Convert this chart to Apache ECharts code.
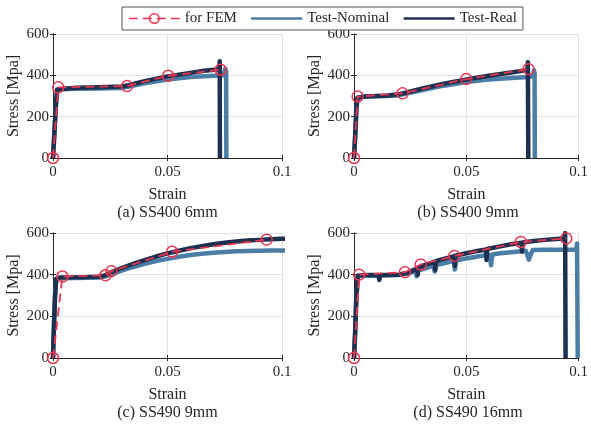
<!DOCTYPE html>
<html>
<head>
<meta charset="utf-8">
<script src="https://cdn.jsdelivr.net/npm/echarts@6/dist/echarts.min.js"></script>
<style>
  html, body { margin: 0; padding: 0; background: #ffffff; }
  #chart { width: 591px; height: 426px; }
</style>
</head>
<body>
<div id="chart"></div>
<script>
// Axis ticks shared by all four panels
const strainTicks = [0, 0.05, 0.1];
const stressTicks = [0, 200, 400, 600];

const seriesNames = ['for FEM', 'Test-Nominal', 'Test-Real'];
const panelCaptions = ['(a) SS400 6mm', '(b) SS400 9mm', '(c) SS490 9mm', '(d) SS490 16mm'];

// (a) SS400 6mm  [strain, stress MPa]
const femA = [[0, 0], [0.0023, 342], [0.0323, 348], [0.0503, 398], [0.0732, 427]];
const nominalA = [[0, 0], [0.0005, 100], [0.0013, 260], [0.002, 330], [0.003, 333], [0.01, 335], [0.02, 336],
  [0.03, 339], [0.034, 348], [0.04, 362], [0.05, 380], [0.06, 392], [0.07, 398], [0.0745, 400],
  [0.0752, 432], [0.0756, 420], [0.0757, 0]];
const realA = [[0, 0], [0.0005, 100], [0.0012, 250], [0.0018, 332], [0.0025, 338], [0.01, 340], [0.02, 342],
  [0.03, 346], [0.033, 352], [0.04, 372], [0.05, 395], [0.06, 412], [0.066, 422], [0.0715, 428],
  [0.0726, 430], [0.0728, 468], [0.0729, 0]];

// (b) SS400 9mm
const femB = [[0, 0], [0.0016, 297], [0.0216, 313], [0.05, 382], [0.0777, 430]];
const nominalB = [[0, 0], [0.0005, 100], [0.0011, 240], [0.0017, 292], [0.005, 298], [0.015, 300], [0.02, 304],
  [0.03, 328], [0.04, 350], [0.05, 368], [0.06, 380], [0.07, 387], [0.078, 392], [0.0798, 398],
  [0.0801, 425], [0.0804, 410], [0.0805, 0]];
const realB = [[0, 0], [0.0005, 100], [0.001, 230], [0.0015, 292], [0.005, 298], [0.015, 302], [0.02, 308],
  [0.03, 335], [0.04, 360], [0.05, 380], [0.06, 398], [0.07, 414], [0.076, 424], [0.0772, 428],
  [0.0774, 463], [0.0776, 0]];

// (c) SS490 9mm
const femC = [[0, 0], [0.0041, 391], [0.0229, 397], [0.0255, 417], [0.052, 510], [0.0933, 568]];
const nominalC = [[0, 0], [0.0004, 150], [0.0009, 300], [0.0014, 378], [0.003, 383], [0.01, 384], [0.02, 386],
  [0.023, 392], [0.026, 405], [0.03, 420], [0.035, 437], [0.04, 452], [0.045, 465], [0.05, 476],
  [0.055, 486], [0.06, 494], [0.065, 500], [0.07, 505], [0.075, 509], [0.08, 512], [0.085, 514],
  [0.09, 515], [0.095, 516], [0.1, 516], [0.102, 516]];
const realC = [[0, 0], [0.0004, 150], [0.0009, 300], [0.0014, 380], [0.003, 386], [0.01, 387], [0.02, 390],
  [0.023, 398], [0.026, 415], [0.03, 432], [0.035, 452], [0.04, 470], [0.045, 487], [0.05, 502],
  [0.055, 515], [0.06, 527], [0.065, 537], [0.07, 546], [0.075, 553], [0.08, 559], [0.085, 564],
  [0.09, 567], [0.095, 570], [0.1, 572], [0.102, 573]];

// (d) SS490 16mm
const femD = [[0, 0], [0.0023, 400], [0.0227, 412], [0.0297, 449], [0.0447, 490], [0.0743, 557], [0.0945, 574]];
const nominalD = [[0, 0], [0.0005, 120], [0.001, 280], [0.0017, 392], [0.005, 395], [0.0108, 396], [0.0112, 378],
  [0.0116, 396], [0.02, 398], [0.024, 405], [0.0275, 418], [0.0279, 392], [0.0285, 420], [0.032, 432],
  [0.0355, 444], [0.0359, 415], [0.0365, 446], [0.04, 455], [0.0445, 466], [0.0449, 425], [0.0455, 468],
  [0.05, 478], [0.055, 487], [0.0605, 496], [0.061, 445], [0.0616, 497], [0.065, 503], [0.07, 508],
  [0.0765, 515], [0.0778, 472], [0.0795, 518], [0.085, 520], [0.09, 520], [0.095, 520], [0.099, 520],
  [0.0993, 550], [0.0996, 0]];
const realD = [[0, 0], [0.0005, 120], [0.001, 280], [0.0017, 395], [0.005, 398], [0.011, 398], [0.0113, 375],
  [0.0116, 398], [0.02, 400], [0.024, 410], [0.0282, 430], [0.0284, 400], [0.0286, 433], [0.032, 448],
  [0.036, 462], [0.0362, 422], [0.0364, 465], [0.04, 476], [0.0447, 489], [0.0449, 442], [0.0451, 491],
  [0.05, 503], [0.055, 514], [0.0588, 521], [0.059, 470], [0.0592, 523], [0.065, 536], [0.07, 546],
  [0.0746, 553], [0.0748, 510], [0.075, 555], [0.08, 562], [0.085, 567], [0.09, 571], [0.0938, 574],
  [0.094, 600], [0.0942, 0]];

const panels = [
  { fem: femA, nominal: nominalA, real: realA },
  { fem: femB, nominal: nominalB, real: realB },
  { fem: femC, nominal: nominalC, real: realC },
  { fem: femD, nominal: nominalD, real: realD }
];

const FONT = 'Liberation Serif, Times New Roman, serif';
const INK = '#262626';
const FEM_RED = '#e8364f';
const NOMINAL_BLUE = '#4b7ea6';
const REAL_NAVY = '#1c3050';
const CLEAR = 'rgba(0,0,0,0)';

const grids = [
  { left: 53, top: 34, width: 229, height: 124 },
  { left: 354, top: 34, width: 228, height: 124 },
  { left: 53, top: 233, width: 229, height: 125 },
  { left: 354, top: 233, width: 228, height: 125 }
];

const xMin = strainTicks[0], xMax = strainTicks[strainTicks.length - 1], xStep = strainTicks[1] - strainTicks[0];
const yMin = stressTicks[0], yMax = stressTicks[stressTicks.length - 1], yStep = stressTicks[1] - stressTicks[0];

const xAxes = [], yAxes = [], series = [], graphics = [];

grids.forEach((g, i) => {
  // main axes: labels, names, grid lines
  xAxes.push({
    type: 'value', gridIndex: i, position: 'bottom', min: xMin, max: xMax, interval: xStep,
    name: 'Strain', nameLocation: 'middle', nameGap: 29,
    nameTextStyle: { fontFamily: FONT, fontSize: 16, color: INK },
    axisLine: { show: true, lineStyle: { color: INK, width: 1 } },
    axisTick: { show: true, inside: true, length: 3, lineStyle: { color: INK } },
    axisLabel: { fontFamily: FONT, fontSize: 15, color: INK, margin: 7 },
    splitLine: { show: true, lineStyle: { color: '#e3e3e3', width: 1 } }
  });
  yAxes.push({
    type: 'value', gridIndex: i, position: 'left', min: yMin, max: yMax, interval: yStep,
    name: 'Stress [Mpa]', nameLocation: 'middle', nameGap: 31,
    nameTextStyle: { fontFamily: FONT, fontSize: 16, color: INK },
    axisLine: { show: true, lineStyle: { color: INK, width: 1 } },
    axisTick: { show: true, inside: true, length: 3, lineStyle: { color: INK } },
    axisLabel: { fontFamily: FONT, fontSize: 15, color: INK, margin: 4 },
    splitLine: { show: true, lineStyle: { color: '#e3e3e3', width: 1 } }
  });
});

grids.forEach((g, i) => {
  // box edges on top and right with inward ticks
  xAxes.push({
    type: 'value', gridIndex: i, position: 'top', min: xMin, max: xMax, interval: xStep, z: 1,
    axisLine: { show: true, lineStyle: { color: INK, width: 1 } },
    axisTick: { show: true, inside: true, length: 3, lineStyle: { color: INK } },
    axisLabel: { show: false }, splitLine: { show: false }
  });
  yAxes.push({
    type: 'value', gridIndex: i, position: 'right', min: yMin, max: yMax, interval: yStep, z: 1,
    axisLine: { show: true, lineStyle: { color: INK, width: 1 } },
    axisTick: { show: true, inside: true, length: 3, lineStyle: { color: INK } },
    axisLabel: { show: false }, splitLine: { show: false }
  });
});

panels.forEach((p, i) => {
  series.push({
    name: seriesNames[0], type: 'line', xAxisIndex: i, yAxisIndex: i, data: p.fem, z: 4,
    symbol: 'circle', symbolSize: 11, showSymbol: true,
    lineStyle: { color: FEM_RED, width: 1.8, type: [9, 5] },
    itemStyle: { color: CLEAR, borderColor: FEM_RED, borderWidth: 1.5 }
  });
  series.push({
    name: seriesNames[1], type: 'line', xAxisIndex: i, yAxisIndex: i, data: p.nominal, z: 2,
    symbol: 'none', lineStyle: { color: NOMINAL_BLUE, width: 4.5, join: 'round' },
    itemStyle: { color: NOMINAL_BLUE }
  });
  series.push({
    name: seriesNames[2], type: 'line', xAxisIndex: i, yAxisIndex: i, data: p.real, z: 3,
    symbol: 'none', lineStyle: { color: REAL_NAVY, width: 4.5, join: 'round' },
    itemStyle: { color: REAL_NAVY }
  });
});

grids.forEach((g, i) => {
  graphics.push({
    type: 'text', x: g.left + g.width / 2, y: g.top + g.height + 55,
    style: { text: panelCaptions[i], fontFamily: FONT, fontSize: 16, fill: INK,
      textAlign: 'center', textVerticalAlign: 'middle' }
  });
});

const chart = echarts.init(document.getElementById('chart'), null, { renderer: 'canvas' });
chart.setOption({
  animation: false,
  backgroundColor: '#ffffff',
  grid: grids.map(g => Object.assign({ containLabel: false }, g)),
  xAxis: xAxes,
  yAxis: yAxes,
  legend: {
    left: 122, top: 7, padding: [4, 6], itemGap: 13, itemWidth: 51, itemHeight: 12,
    borderColor: '#555555', borderWidth: 1, backgroundColor: '#ffffff',
    textStyle: { fontFamily: FONT, fontSize: 15, color: INK },
    data: [
      { name: seriesNames[0], lineStyle: { width: 1.6, color: FEM_RED },
        itemStyle: { color: CLEAR, borderColor: FEM_RED, borderWidth: 1.5 } },
      { name: seriesNames[1], lineStyle: { width: 2.5, color: NOMINAL_BLUE },
        itemStyle: { color: CLEAR, borderColor: CLEAR, borderWidth: 0 } },
      { name: seriesNames[2], lineStyle: { width: 2.5, color: REAL_NAVY },
        itemStyle: { color: CLEAR, borderColor: CLEAR, borderWidth: 0 } }
    ]
  },
  graphic: graphics,
  series: series
});
</script>
</body>
</html>
